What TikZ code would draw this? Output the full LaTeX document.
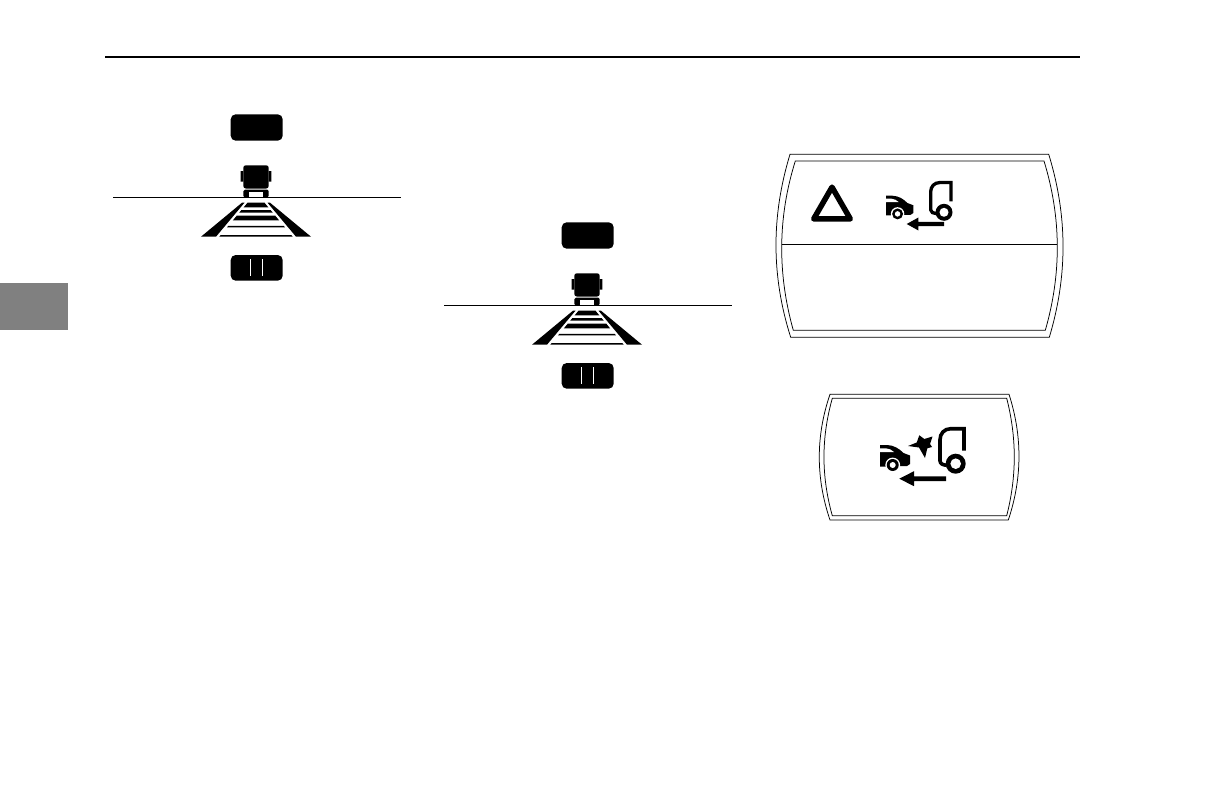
\documentclass[tikz,border=0pt]{standalone}
\usepackage{tikz}
\tikzset{
  panelline/.style={line width=0.75pt},
  pics/trackfig/.style={code={
    \fill[rounded corners=5pt] (-25.3,-83.2) rectangle (26.7,-56.8);
    \fill[rounded corners=5pt] (-25.3,57.5) rectangle (26.7,83.2);
    \draw[white,line width=0.8pt] (-5.7,61.5)--(-5.7,78.2) (6.3,61.5)--(6.3,78.2);
    \fill[rounded corners=2.5pt] (-12.7,-32.2) rectangle (12.7,-9);
    \fill (-15.3,-26.5) rectangle (-12.7,-15.8) (12.7,-26.5) rectangle (15.3,-15.8);
    \fill[rounded corners=1.5pt] (-12.7,-7.8) rectangle (12.7,0);
    \fill[white] (-6.7,-5.2) rectangle (6.7,-0.6);
    \draw[line width=1.1pt] (-142.7,0)--(145,0);
    \fill (-14,5.2)--(-11.5,5.2)--(-40,39.2)--(-55,39.2)--cycle;
    \fill (14,5.2)--(11.5,5.2)--(40,39.2)--(55,39.2)--cycle;
    \foreach \ya/\yb in {5.2/9.8,12.6/15.2,18.2/22.8,28.4/29.8,37.6/39.2}{
      \pgfmathsetmacro\wa{8.5+(\ya-5.2)*0.83}
      \pgfmathsetmacro\wb{8.5+(\yb-5.2)*0.83}
      \fill (-\wa,\ya)--(\wa,\ya)--(\wb,\yb)--(-\wb,\yb)--cycle;
    }
  }},
  pics/caricon/.style={code={
    \fill (0,0)--(7,0) .. controls (14,0.3) and (19,3.5) .. (23.5,8)--(30,10.5)--(30,19)--(27,21)--(0,21.7)--cycle;
    \fill[white] (0,3.3)--(6,3.3) .. controls (9,3.5) and (12,5) .. (14,7)--(0,7.2)--cycle;
    \fill[white] (12.7,20) circle[radius=7.4];
    \fill (12.7,20) circle[radius=6];
    \fill[white] (12.7,20) circle[radius=3];
  }},
  pics/vanicon/.style={code={
    \draw[line width=#1,line cap=butt] (8.3,-13)--(8.3,-35)--(-5,-35) .. controls (-11.5,-35) and (-15.7,-30) .. (-15.7,-24)--(-15.7,-3) .. controls (-15.7,0) and (-12.5,1.5) .. (-9,1.5);
    \fill (0,0) circle[radius=10];
    \fill[white] (0,0) circle[radius=5.3];
  }},
  pics/movearrow/.style={code={
    \fill (0,0)--(14.7,-7.5)--(14.7,-2.4)--(46.7,-2.4)--(46.7,2.4)--(14.7,2.4)--(14.7,7.5)--cycle;
  }}
}
\begin{document}
\begin{tikzpicture}[x=1pt,y=-1pt]
\useasboundingbox (0,0) rectangle (1224,792);
\draw[line width=1.5pt] (105,57)--(1080,57);
\fill[black!50] (0,283) rectangle (68,330);
\pic at (256,197.5) {trackfig};
\pic at (587,305.5) {trackfig};
% upper display
\draw[panelline] (790,154.3)--(1048.7,154.3) .. controls (1067.7,216) and (1067.7,276) .. (1049.3,337.3)--(790.7,337.3) .. controls (771.2,276) and (771.2,216) .. (790,154.3)--cycle;
\draw[panelline] (795.3,161)--(1044,161) .. controls (1061.5,218) and (1061.5,274) .. (1045.3,330.3)--(793.3,330.3) .. controls (777.5,274) and (777.5,218) .. (795.3,161)--cycle;
\draw[panelline] (781.7,244.3)--(1057.3,244.3);
\draw[line width=5.5pt,line join=round] (832,187.2)--(813.7,218.9)--(850.3,218.9)--cycle;
\pic[scale=0.91] at (886,195.7) {caricon};
\pic[scale=0.85] at (944,212.3) {vanicon=3.3pt};
\pic[xscale=0.8,yscale=0.87] at (906.7,224) {movearrow};
% lower display
\draw[panelline] (830,394.3)--(1009,394.3) .. controls (1022.4,436) and (1022.4,478) .. (1008.3,520)--(830,520) .. controls (815.7,478) and (815.7,436) .. (830,394.3)--cycle;
\draw[panelline] (832.3,398.3)--(1006.7,398.3) .. controls (1016.8,438) and (1016.8,476) .. (1006.7,515.7)--(832.3,515.7) .. controls (821.2,476) and (821.2,438) .. (832.3,398.3)--cycle;
\pic at (880,445) {caricon};
\pic at (955.7,463.7) {vanicon=3.6pt};
\pic at (899.3,478.7) {movearrow};
\fill (908,446)--(916.7,442.5)--(919.3,435.3)--(924.3,439)--(932.5,436.5)--(930,444)--(932,447)--(927.3,448.3)--(925,458)--(919,447.5)--cycle;
\end{tikzpicture}
\end{document}
